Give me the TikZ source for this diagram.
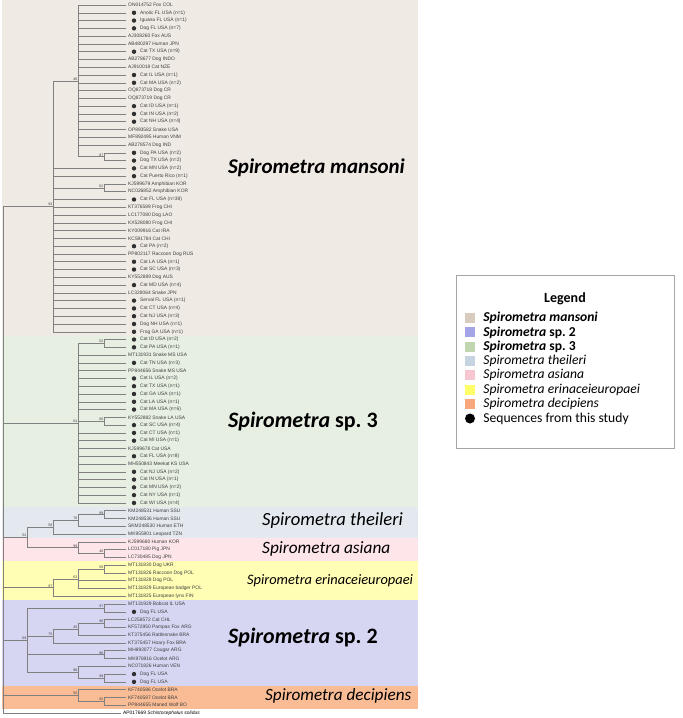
\documentclass[tikz,border=0pt]{standalone}
\usepackage{fontspec}
\setmainfont{Liberation Sans}
\newfontfamily\calibri{Carlito}
\usetikzlibrary{positioning}
% clade backgrounds
\definecolor{mansbg}{HTML}{EFEAE3}
\definecolor{sptbg}{HTML}{E6EFE2}
\definecolor{theibg}{HTML}{E3E9EF}
\definecolor{asibg}{HTML}{FDE5EA}
\definecolor{eribg}{HTML}{FFFEB4}
\definecolor{sptwobg}{HTML}{D6D6F2}
\definecolor{decbg}{HTML}{F9BC94}
% legend swatches
\definecolor{mansleg}{HTML}{D9CCBF}
\definecolor{sptwoleg}{HTML}{A4A4E6}
\definecolor{sptleg}{HTML}{BFD6AE}
\definecolor{theileg}{HTML}{C6D3E0}
\definecolor{asileg}{HTML}{F7C6D0}
\definecolor{erileg}{HTML}{FFFF66}
\definecolor{decleg}{HTML}{F8A67C}
% lines and text
\definecolor{branch}{HTML}{808080}
\definecolor{leaftext}{HTML}{404040}
\definecolor{dotcol}{HTML}{303030}
\def\Genus{Spirometra}

\begin{document}
\begin{tikzpicture}[x=1pt,y=-1pt,% pixel units, y runs downwards
	every edge/.style={draw=branch,line width=.5pt,to path={|- (\tikztotarget)}},% elbow branches
	leaflabel/.style={anchor=west,inner sep=0pt,font=\fontsize{4.9}{5}\selectfont,text=leaftext},
	boot/.style={anchor=south east,inner sep=.3pt,font=\fontsize{3.6}{4}\selectfont,text=leaftext},
	seqdot/.style={circle,fill=dotcol,inner sep=0pt,minimum size=4.4pt},
	cladename/.style={anchor=west,inner sep=0pt},
	swatch/.style={rectangle,inner sep=0pt,minimum size=10pt},
	legtext/.style={anchor=west,inner sep=0pt,font=\calibri\fontsize{13.6}{15}\selectfont}
	]
	\useasboundingbox (0,0) rectangle (683,718);

	\begin{scope}[y=-7.78pt,yshift=2.78pt]% one unit = one leaf
		% clade backgrounds
		\fill[mansbg] (2,0.357) rectangle (418,43.5);
		\fill[sptbg] (2,43.5) rectangle (418,65.5);
		\fill[theibg] (2,65.5) rectangle (418,69.5);
		\fill[asibg] (2,69.5) rectangle (418,72.5);
		\fill[eribg] (2,72.5) rectangle (418,77.5);
		\fill[sptwobg] (2,77.5) rectangle (418,88.5);
		\fill[decbg] (2,88.5) rectangle (418,91.5);

		% leaves
		\foreach \i/\lbl/\isnew in {
			1/ON014752 Fox COL/0, 2/Anolic FL USA (n=1)/1, 3/Iguana FL USA (n=1)/1,
			4/Dog FL USA (n=7)/1, 5/AJ308260 Fox AUS/0, 6/AB480297 Human JPN/0,
			7/Cat TX USA (n=9)/1, 8/AB278677 Dog INDO/0, 9/AJ910018 Cat NZE/0,
			10/Cat IL USA (n=1)/1, 11/Cat MA USA (n=2)/1, 12/OQ873718 Dog CR/0,
			13/OQ873719 Dog CR/0, 14/Cat ID USA (n=1)/1, 15/Cat IN USA (n=2)/1,
			16/Cat NH USA (n=4)/1, 17/OP893582 Snake USA/0, 18/MF892495 Human VNM/0,
			19/AB278574 Dog IND/0, 20/Dog PA USA (n=2)/1, 21/Dog TX USA (n=2)/1,
			22/Cat MN USA (n=2)/1, 23/Cat Puerto Rico (n=1)/1, 24/KJ599679 Amphibian KOR/0,
			25/NC026852 Amphibian KOR/0, 26/Cat FL USA (n=38)/1, 27/KT376589 Frog CHI/0,
			28/LC177080 Dog LAO/0, 29/KX528080 Frog CHI/0, 30/KY009916 Cat IRA/0,
			31/KC591784 Cat CHI/0, 32/Cat PA (n=2)/1, 33/PP802117 Raccoon Dog RUS/0,
			34/Cat LA USA (n=1)/1, 35/Cat SC USA (n=3)/1, 36/KY552889 Dog AUS/0,
			37/Cat MD USA (n=4)/1, 38/LC328064 Snake JPN/0, 39/Serval FL USA (n=1)/1,
			40/Cat CT USA (n=4)/1, 41/Cat NJ USA (n=3)/1, 42/Dog NH USA (n=1)/1,
			43/Frog GA USA (n=1)/1, 44/Cat ID USA (n=2)/1, 45/Cat PA USA (n=1)/1,
			46/MT131931 Snake MS USA/0, 47/Cat TN USA (n=3)/1, 48/PP844656 Snake MS USA/0,
			49/Cat IL USA (n=2)/1, 50/Cat TX USA (n=1)/1, 51/Cat GA USA (n=1)/1,
			52/Cat LA USA (n=1)/1, 53/Cat MA USA (n=6)/1, 54/KY552882 Snake LA USA/0,
			55/Cat SC USA (n=4)/1, 56/Cat CT USA (n=1)/1, 57/Cat MI USA (n=1)/1,
			58/KJ599678 Cat USA/0, 59/Cat FL USA (n=8)/1, 60/MH550843 Meekat KS USA/0,
			61/Cat NJ USA (n=2)/1, 62/Cat IN USA (n=1)/1, 63/Cat MN USA (n=2)/1,
			64/Cat NY USA (n=1)/1, 65/Cat WI USA (n=4)/1, 66/KM248531 Human SSU/0,
			67/KM248536 Human SSU/0, 68/SKM248530 Human ETH/0, 69/MK955901 Leopard TZN/0,
			70/KJ599680 Human KOR/0, 71/LC017180 Pig JPN/0, 72/LC730485 Dog JPN/0,
			73/MT131830 Dog UKR/0, 74/MT131826 Raccoon Dog POL/0, 75/MT131828 Dog POL/0,
			76/MT131829 European badger POL/0, 77/MT131825 European lynx FIN/0,
			78/MT131929 Bobcat IL USA/0, 79/Dog FL USA/1, 80/LC258572 Cat CHL/0,
			81/KF572950 Pampas Fox ARG/0, 82/KT375456 Rattlesnake BRA/0,
			83/KT375457 Hoary Fox BRA/0, 84/MH892077 Cougar ARG/0, 85/MK976916 Ocelot ARG/0,
			86/NC071826 Human VEN/0, 87/Dog FL USA/1, 88/Dog FL USA/1,
			89/KF740586 Ocelot BRA/0, 90/KF740587 Ocelot BRA/0, 91/PP844655 Maned Wolf BO/0}{
			\coordinate (leaf\i) at (126,\i);
			\ifnum\isnew=1
				\node[seqdot] (dot\i) at (134,\i) {};
				\node[leaflabel] (lab\i) at (140,\i) {\lbl};
			\else
				\node[leaflabel] (lab\i) at (128,\i) {\lbl};
			\fi
		}
		\coordinate (leaf92) at (121,92);
		\node[leaflabel,text=black] (lab92) at (123,92) {AP017669 \textit{Schistocephalus solidus}};

		% internal nodes
		\coordinate (rootnode) at (3,59.4);
		\coordinate (man87) at (104,20.5);
		\coordinate (manA) at (78,10.75);
		\coordinate (man62) at (104,24.5);
		\coordinate (mans) at (53,26.875);
		\coordinate (sp3a) at (104,44.5);
		\coordinate (sp3b) at (104,54.5);
		\coordinate (sp3) at (78,54.75);
		\coordinate (the99) at (104,66.5);
		\coordinate (the76) at (78,67.25);
		\coordinate (the58) at (53,68.125);
		\coordinate (asi46) at (104,71.5);
		\coordinate (asi99) at (78,70.75);
		\coordinate (ta52) at (27,69.44);
		\coordinate (eri59) at (104,73.5);
		\coordinate (eri63) at (78,74.75);
		\coordinate (eri97) at (53,75.875);
		\coordinate (sp2a) at (104,78.5);
		\coordinate (sp2b) at (104,80.5);
		\coordinate (sp2c) at (78,81.25);
		\coordinate (sp2d) at (53,82.125);
		\coordinate (sp2e) at (104,84.5);
		\coordinate (sp2f) at (104,87.5);
		\coordinate (sp2g) at (78,86.75);
		\coordinate (sp2) at (27,82.625);
		\coordinate (dec92) at (104,90.5);
		\coordinate (dec) at (78,89.75);

		% branches
		\foreach \c in {1,...,19} \path (manA) edge (leaf\c);
		\path (manA) edge (man87);
		\path (man87) edge (leaf20) edge (leaf21);
		\path (man62) edge (leaf24) edge (leaf25);
		\foreach \c in {22,23,26,27,...,43} \path (mans) edge (leaf\c);
		\path (mans) edge (manA) edge (man62);
		\path (sp3a) edge (leaf44) edge (leaf45);
		\path (sp3b) edge (leaf54) edge (leaf55);
		\foreach \c in {46,...,53,56,57,...,65} \path (sp3) edge (leaf\c);
		\path (sp3) edge (sp3a) edge (sp3b);
		\path (the99) edge (leaf66) edge (leaf67);
		\path (the76) edge (the99) edge (leaf68);
		\path (the58) edge (the76) edge (leaf69);
		\path (asi46) edge (leaf71) edge (leaf72);
		\path (asi99) edge (leaf70) edge (asi46);
		\path (ta52) edge (the58) edge (asi99);
		\path (eri59) edge (leaf73) edge (leaf74);
		\path (eri63) edge (eri59) edge (leaf75) edge (leaf76);
		\path (eri97) edge (eri63) edge (leaf77);
		\path (sp2a) edge (leaf78) edge (leaf79);
		\path (sp2b) edge (leaf80) edge (leaf81);
		\path (sp2c) edge (sp2b) edge (leaf82);
		\path (sp2d) edge (sp2c) edge (leaf83);
		\path (sp2e) edge (leaf84) edge (leaf85);
		\path (sp2f) edge (leaf87) edge (leaf88);
		\path (sp2g) edge (leaf86) edge (sp2f);
		\path (sp2) edge (sp2a) edge (sp2d) edge (sp2e) edge (sp2g);
		\path (dec92) edge (leaf90) edge (leaf91);
		\path (dec) edge (leaf89) edge (dec92);
		\path (rootnode) edge (mans) edge (sp3) edge (ta52) edge (eri97) edge (sp2) edge (dec) edge (leaf92);

		% bootstrap values
		\foreach \nd/\val in {manA/46,man87/87,man62/62,mans/93,sp3a/52,sp3b/60,sp3/64,
			the99/99,the76/76,the58/58,asi46/46,asi99/99,ta52/52,eri59/59,eri63/63,eri97/97,
			sp2a/97,sp2b/90,sp2c/45,sp2d/75,sp2e/96,sp2f/99,sp2g/98,sp2/69,dec92/92,dec/50}
			\node[boot] (bs\nd) at (\nd) {\val};
	\end{scope}

	% clade names
	\node[cladename,font=\calibri\bfseries\itshape\fontsize{21}{24}\selectfont] (namemans) at (228,168) {\Genus{} mansoni};
	\node[cladename,font=\calibri\bfseries\fontsize{22}{24}\selectfont] (namesp3) at (228,422) {\textit{\Genus} sp.~3};
	\node[cladename,font=\calibri\itshape\fontsize{18.6}{20}\selectfont] (namethei) at (262,521) {\Genus{} theileri};
	\node[cladename,font=\calibri\itshape\fontsize{17.3}{20}\selectfont] (nameasi) at (262,549) {\Genus{} asiana};
	\node[cladename,font=\calibri\itshape\fontsize{14.4}{16}\selectfont] (nameeri) at (247,581) {\Genus{} erinaceieuropaei};
	\node[cladename,font=\calibri\bfseries\fontsize{22}{24}\selectfont] (namesp2) at (228,638) {\textit{\Genus} sp.~2};
	\node[cladename,font=\calibri\itshape\fontsize{17.2}{20}\selectfont] (namedec) at (265,696) {\Genus{} decipiens};

	% legend
	\draw[draw=gray!70,line width=.8pt,fill=white] (456,275) rectangle (674,448);
	\node[font=\calibri\bfseries\fontsize{14}{16}\selectfont] (legtitle) at (565,299) {Legend};
	\foreach \k/\col/\txt in {0/mansleg/{\bfseries\itshape \Genus{} mansoni},
		1/sptwoleg/{\bfseries\textit{\Genus} sp.~2},
		2/sptleg/{\bfseries\textit{\Genus} sp.~3},
		3/theileg/{\itshape \Genus{} theileri},
		4/asileg/{\itshape \Genus{} asiana},
		5/erileg/{\itshape \Genus{} erinaceieuropaei},
		6/decleg/{\itshape \Genus{} decipiens}}{
		\node[swatch,fill=\col] (sw\k) at (470,318+\k*14.35) {};
		\node[legtext,right=8pt of sw\k] (lt\k) {\txt};
	}
	\node[circle,fill=black,inner sep=0pt,minimum size=10pt] (sw7) at (470,418.5) {};
	\node[legtext,right=8pt of sw7] (lt7) {Sequences from this study};
\end{tikzpicture}
\end{document}
